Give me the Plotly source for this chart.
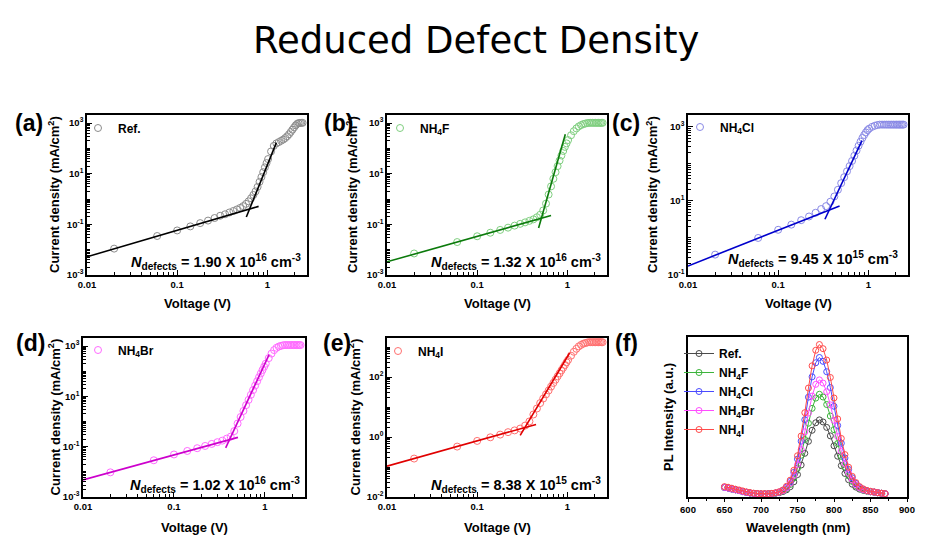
import plotly.graph_objects as go

W, H = 952, 535

# ---------------- data ----------------
V = [0.02, 0.06, 0.10, 0.14, 0.18, 0.22, 0.26, 0.30, 0.34, 0.38, 0.42, 0.46, 0.50,
     0.54, 0.58, 0.62, 0.66, 0.70, 0.74, 0.78, 0.82, 0.86, 0.90, 0.94, 0.98, 1.02,
     1.10, 1.18, 1.26, 1.34, 1.42, 1.50, 1.58, 1.66, 1.74, 1.82, 1.90, 1.98, 2.06,
     2.14, 2.22, 2.30, 2.38, 2.46]

J_ref = [0.011, 0.0347, 0.0575, 0.0832, 0.112, 0.141, 0.178, 0.219, 0.251, 0.295, 0.339,
         0.389, 0.447, 0.525, 0.646, 0.813, 1.07, 1.45, 2.0, 3.02, 4.79, 7.41, 11.5, 17.8,
         26.3, 38.0, 75.9, 126, 158, 178, 200, 224, 257, 302, 363, 447, 550, 676, 813,
         933, 1000, 1023, 1023, 1023]
J_F = [0.00708, 0.02, 0.0339, 0.0468, 0.0603, 0.0741, 0.0891, 0.105, 0.12, 0.138, 0.158,
       0.191, 0.24, 0.355, 0.661, 1.51, 3.16, 6.31, 11.5, 20.0, 33.1, 52.5, 79.4, 115,
       158, 214, 331, 479, 617, 741, 832, 912, 955, 1000, 1023, 1023, 1023, 1023, 1023,
       1023, 1023, 1023, 1023, 1023]
J_Cl = [0.355, 1.0, 1.66, 2.29, 3.02, 3.80, 4.79, 6.03, 7.24, 9.55, 13.2, 20.0, 30.2,
        43.7, 63.1, 87.1, 120, 166, 229, 309, 398, 501, 603, 708, 813, 891, 1000, 1072,
        1122, 1148, 1148, 1148, 1148, 1148, 1148, 1148, 1148, 1148, 1148, 1148, 1148,
        1148, 1148, 1148]
J_Br = [0.00955, 0.0288, 0.049, 0.0676, 0.0871, 0.107, 0.129, 0.151, 0.174, 0.209, 0.251,
        0.417, 0.832, 1.51, 2.63, 4.47, 7.24, 11.5, 17.8, 26.9, 39.8, 57.5, 81.3, 112,
        151, 200, 331, 501, 692, 851, 955, 1023, 1072, 1096, 1096, 1096, 1096, 1096,
        1096, 1096, 1096, 1096, 1096, 1096]
J_I = [0.191, 0.479, 0.741, 0.977, 1.20, 1.45, 1.66, 1.91, 2.40, 3.31, 5.62, 8.91, 13.5,
       19.1, 26.3, 35.5, 47.9, 63.1, 81.3, 105, 132, 166, 204, 251, 309, 372, 513, 692,
       871, 1047, 1175, 1288, 1349, 1413, 1445, 1445, 1445, 1445, 1445, 1445, 1445, 1445,
       1445, 1445]

# fitted lines (end points): ohmic region and trap-filled region
ohm_V = [[0.01, 0.80], [0.01, 0.66], [0.01, 0.48], [0.01, 0.505], [0.01, 0.45]]
ohm_J = [[0.00525, 0.513], [0.00331, 0.225], [0.175, 7.33], [0.00479, 0.234], [0.107, 2.63]]
tfl_V = [[0.585, 1.26], [0.48, 0.95], [0.33, 0.85], [0.37, 1.11], [0.30, 1.06]]
tfl_J = [[0.195, 170], [0.0724, 363], [3.2, 427], [0.0891, 457], [1.14, 631]]

sample_names = ["Ref.", "NH<sub>4</sub>F", "NH<sub>4</sub>Cl", "NH<sub>4</sub>Br", "NH<sub>4</sub>I"]
n_defects = ["1.90 X 10<sup>16</sup>", "1.32 X 10<sup>16</sup>", "9.45 X 10<sup>15</sup>",
             "1.02 X 10<sup>16</sup>", "8.38 X 10<sup>15</sup>"]
panel_letters = ["(a)", "(b)", "(c)", "(d)", "(e)", "(f)"]

# PL spectra
WL = [650, 655, 660, 665, 670, 675, 680, 685, 690, 695, 700, 705, 710, 715, 720, 725,
      730, 735, 740, 745, 750, 755, 760, 765, 770, 775, 780, 785, 790, 795, 800, 805,
      810, 815, 820, 825, 830, 835, 840, 845, 850, 855, 860, 865, 870]
PL_ref = [.060, .056, .050, .045, .040, .034, .029, .025, .022, .020, .019, .019,
          .020, .022, .024, .027, .034, .045, .064, .095, .140, .200, .273, .348, .417, .464, .482,
          .469, .435, .382, .320, .255, .196, .147, .108, .080, .062, .049, .042, .037, .033, .030, .026, .023, .020]
PL_F = [.060, .056, .050, .045, .040, .034, .029, .025, .022, .020, .019, .019,
        .020, .022, .024, .029, .037, .052, .078, .119, .180, .261, .359, .461, .554, .618, .642,
        .625, .578, .506, .421, .334, .254, .187, .134, .097, .071, .055, .044, .038, .033, .030, .027, .023, .020]
PL_Cl = [.060, .056, .050, .045, .040, .034, .029, .025, .022, .020, .019, .019,
         .020, .022, .025, .031, .042, .062, .097, .154, .237, .349, .483, .624, .751, .839, .872,
         .848, .783, .684, .567, .447, .336, .244, .172, .120, .085, .062, .048, .040, .034, .031, .027, .023, .020]
PL_Br = [.060, .056, .050, .045, .040, .034, .029, .025, .022, .020, .019, .019,
         .020, .022, .025, .030, .039, .056, .086, .133, .202, .296, .407, .525, .631, .704, .732,
         .712, .658, .576, .479, .378, .286, .209, .149, .106, .076, .057, .046, .039, .034, .030, .027, .023, .020]
PL_I = [.065, .061, .055, .049, .044, .038, .032, .028, .024, .022, .021, .021,
        .021, .023, .027, .033, .044, .067, .105, .167, .258, .381, .527, .681, .820, .917, .953,
        .927, .856, .747, .619, .488, .366, .265, .186, .129, .090, .065, .051, .041, .036, .032, .027, .024, .021]

JV = [J_ref, J_F, J_Cl, J_Br, J_I]
PL = [PL_ref, PL_F, PL_Cl, PL_Br, PL_I]

# ---------------- styling ----------------
marker_colors = ["#8c8c8c", "#7fcf7f", "#8a8ae6", "#ff6bff", "#ff7070"]
line_colors = ["#000000", "#0b7a0b", "#0000cc", "#cc00cc", "#e00000"]
pl_colors = ["#4a4a4a", "#3cb43c", "#4a4aff", "#ff4dff", "#ff4a4a"]

FONT = "Liberation Sans, Arial, sans-serif"

# panel boxes in pixels: left, right, top, bottom
boxes = [(87, 307, 115, 275), (387, 607, 115, 275), (688, 908, 115, 275),
         (83, 305, 338, 497), (387, 607, 338, 497), (688, 907, 337, 497)]
y_ranges = [[-3, 3.32], [-3, 3.32], [-1, 3.32], [-3, 3.32], [-2, 3.3]]
y_ticks = [[1e-3, 1e-1, 1e1, 1e3], [1e-3, 1e-1, 1e1, 1e3], [1e-1, 1e1, 1e3],
           [1e-3, 1e-1, 1e1, 1e3], [1e-2, 1, 1e2]]
y_ticktext = [["10<sup>-3</sup>", "10<sup>-1</sup>", "10<sup>1</sup>", "10<sup>3</sup>"],
              ["10<sup>-3</sup>", "10<sup>-1</sup>", "10<sup>1</sup>", "10<sup>3</sup>"],
              ["10<sup>-1</sup>", "10<sup>1</sup>", "10<sup>3</sup>"],
              ["10<sup>-3</sup>", "10<sup>-1</sup>", "10<sup>1</sup>", "10<sup>3</sup>"],
              ["10<sup>-2</sup>", "10<sup>0</sup>", "10<sup>2</sup>"]]
x_ticks = [0.01, 0.1, 1]
x_ticktext = ["0.01", "0.1", "1"]

minor_log = [m * 10.0 ** e for e in range(-4, 5) for m in range(1, 10)]


def px(x):
    return x / W


def py(y):
    return 1 - y / H


fig = go.Figure()
layout = {}

for i in range(6):
    l, r, t, b = boxes[i]
    xa = "xaxis" if i == 0 else f"xaxis{i+1}"
    ya = "yaxis" if i == 0 else f"yaxis{i+1}"
    xr = "x" if i == 0 else f"x{i+1}"
    yr = "y" if i == 0 else f"y{i+1}"
    common = dict(showline=True, linewidth=1.5, linecolor="black", mirror=True,
                  showgrid=False, zeroline=False, ticks="inside", ticklen=5, tickwidth=1.2,
                  tickcolor="black", automargin=False,
                  tickfont=dict(family=FONT, size=9.5, color="black", weight="bold"))
    if i < 5:
        layout[xa] = dict(common, type="log", range=[-2, 0.44], domain=[px(l), px(r)],
                          anchor=yr, tickvals=x_ticks, ticktext=x_ticktext,
                          minor=dict(tickvals=minor_log, ticks="inside", ticklen=3,
                                     tickcolor="black", tickwidth=1))
        layout[ya] = dict(common, type="log", range=y_ranges[i], domain=[py(b), py(t)],
                          anchor=xr, tickvals=y_ticks[i], ticktext=y_ticktext[i],
                          minor=dict(tickvals=minor_log, ticks="inside", ticklen=3,
                                     tickcolor="black", tickwidth=1))
        leg = "legend" if i == 0 else f"legend{i+1}"
        fig.add_trace(go.Scatter(x=V, y=JV[i], mode="markers", name=sample_names[i],
                                 xaxis=xr, yaxis=yr, legend=leg,
                                 marker=dict(symbol="circle-open", size=7,
                                             color=marker_colors[i], line=dict(width=1))))
        fig.add_trace(go.Scatter(x=ohm_V[i], y=ohm_J[i], mode="lines", showlegend=False,
                                 xaxis=xr, yaxis=yr,
                                 line=dict(color=line_colors[i], width=1.6)))
        fig.add_trace(go.Scatter(x=tfl_V[i], y=tfl_J[i], mode="lines", showlegend=False,
                                 xaxis=xr, yaxis=yr,
                                 line=dict(color=line_colors[i], width=1.6)))
    else:
        layout[xa] = dict(common, range=[600, 900], domain=[px(l), px(r)], anchor=yr,
                          tickvals=[600, 650, 700, 750, 800, 850, 900], ticks="outside",
                          ticklen=3,
                          minor=dict(tickvals=[625, 675, 725, 775, 825, 875],
                                     ticks="outside", ticklen=2, tickcolor="black"))
        layout[ya] = dict(showline=True, linewidth=1.5, linecolor="black", mirror=True,
                          showgrid=False, zeroline=False, range=[0, 1.0], automargin=False,
                          domain=[py(b), py(t)], anchor=xr, showticklabels=False, ticks="")
        for k in range(5):
            fig.add_trace(go.Scatter(x=WL, y=PL[k], mode="lines+markers", name=sample_names[k],
                                     xaxis=xr, yaxis=yr, legend="legend6",
                                     line=dict(color=pl_colors[k], width=1),
                                     marker=dict(symbol="circle-open", size=6,
                                                 color=pl_colors[k], line=dict(width=1))))

# legends
leg_pos = [(115, 128), (417, 128), (717, 127), (115, 350), (415, 351)]
for i, (tx, ty) in enumerate(leg_pos):
    key = "legend" if i == 0 else f"legend{i+1}"
    layout[key] = dict(x=px(tx - 37), y=py(ty), xanchor="left", yanchor="middle",
                       bgcolor="rgba(0,0,0,0)", borderwidth=0,
                       font=dict(family=FONT, size=12, color="black", weight="bold"))
layout["legend6"] = dict(x=px(679), y=py(339), xanchor="left", yanchor="top",
                         bgcolor="rgba(0,0,0,0)", borderwidth=0,
                         font=dict(family=FONT, size=12, color="black", weight="bold"))

annotations = []
# main title
annotations.append(dict(text="Reduced Defect Density", x=0.5, y=py(40), xref="paper",
                        yref="paper", showarrow=False, xanchor="center", yanchor="middle",
                        font=dict(family="DejaVu Sans, sans-serif", size=37, color="black")))
# panel letters
letter_pos = [(29, 123), (338, 123), (626, 123), (30, 343), (337, 343), (626, 343)]
for i, (lx, ly) in enumerate(letter_pos):
    annotations.append(dict(text=f"<b>{panel_letters[i]}</b>", x=px(lx), y=py(ly),
                            xref="paper", yref="paper", showarrow=False,
                            xanchor="center", yanchor="middle",
                            font=dict(family=FONT, size=23, color="black")))
# axis titles
ytitle_x = [54, 352, 652, 54, 354, 668]
xtitle_y = [303, 303, 303, 527, 527, 527]
for i in range(6):
    l, r, t, b = boxes[i]
    ytxt = "<b>Current density (mA/cm<sup>2</sup>)</b>" if i < 5 else "<b>PL Intensity (a.u.)</b>"
    xtxt = "<b>Voltage (V)</b>" if i < 5 else "<b>Wavelength (nm)</b>"
    annotations.append(dict(text=ytxt, x=px(ytitle_x[i]), y=py((t + b) / 2), xref="paper",
                            yref="paper", showarrow=False, textangle=-90,
                            xanchor="center", yanchor="middle",
                            font=dict(family=FONT, size=13, color="black")))
    annotations.append(dict(text=xtxt, x=px((l + r) / 2), y=py(xtitle_y[i]), xref="paper",
                            yref="paper", showarrow=False, xanchor="center", yanchor="middle",
                            font=dict(family=FONT, size=13, color="black")))
# N_defects
nd_pos = [(303, 262), (603, 262), (900, 259), (302, 485), (603, 485)]
for i, (nx, ny) in enumerate(nd_pos):
    annotations.append(dict(text=f"<b><i>N</i><sub>defects</sub> = {n_defects[i]} cm<sup>-3</sup></b>",
                            x=px(nx), y=py(ny), xref="paper", yref="paper", showarrow=False,
                            xanchor="right", yanchor="middle",
                            font=dict(family=FONT, size=14.5, color="black")))

fig.update_layout(width=W, height=H, margin=dict(l=0, r=0, t=0, b=0, pad=0),
                  paper_bgcolor="white", plot_bgcolor="white",
                  annotations=annotations, **layout)

fig.write_html("out.html")
